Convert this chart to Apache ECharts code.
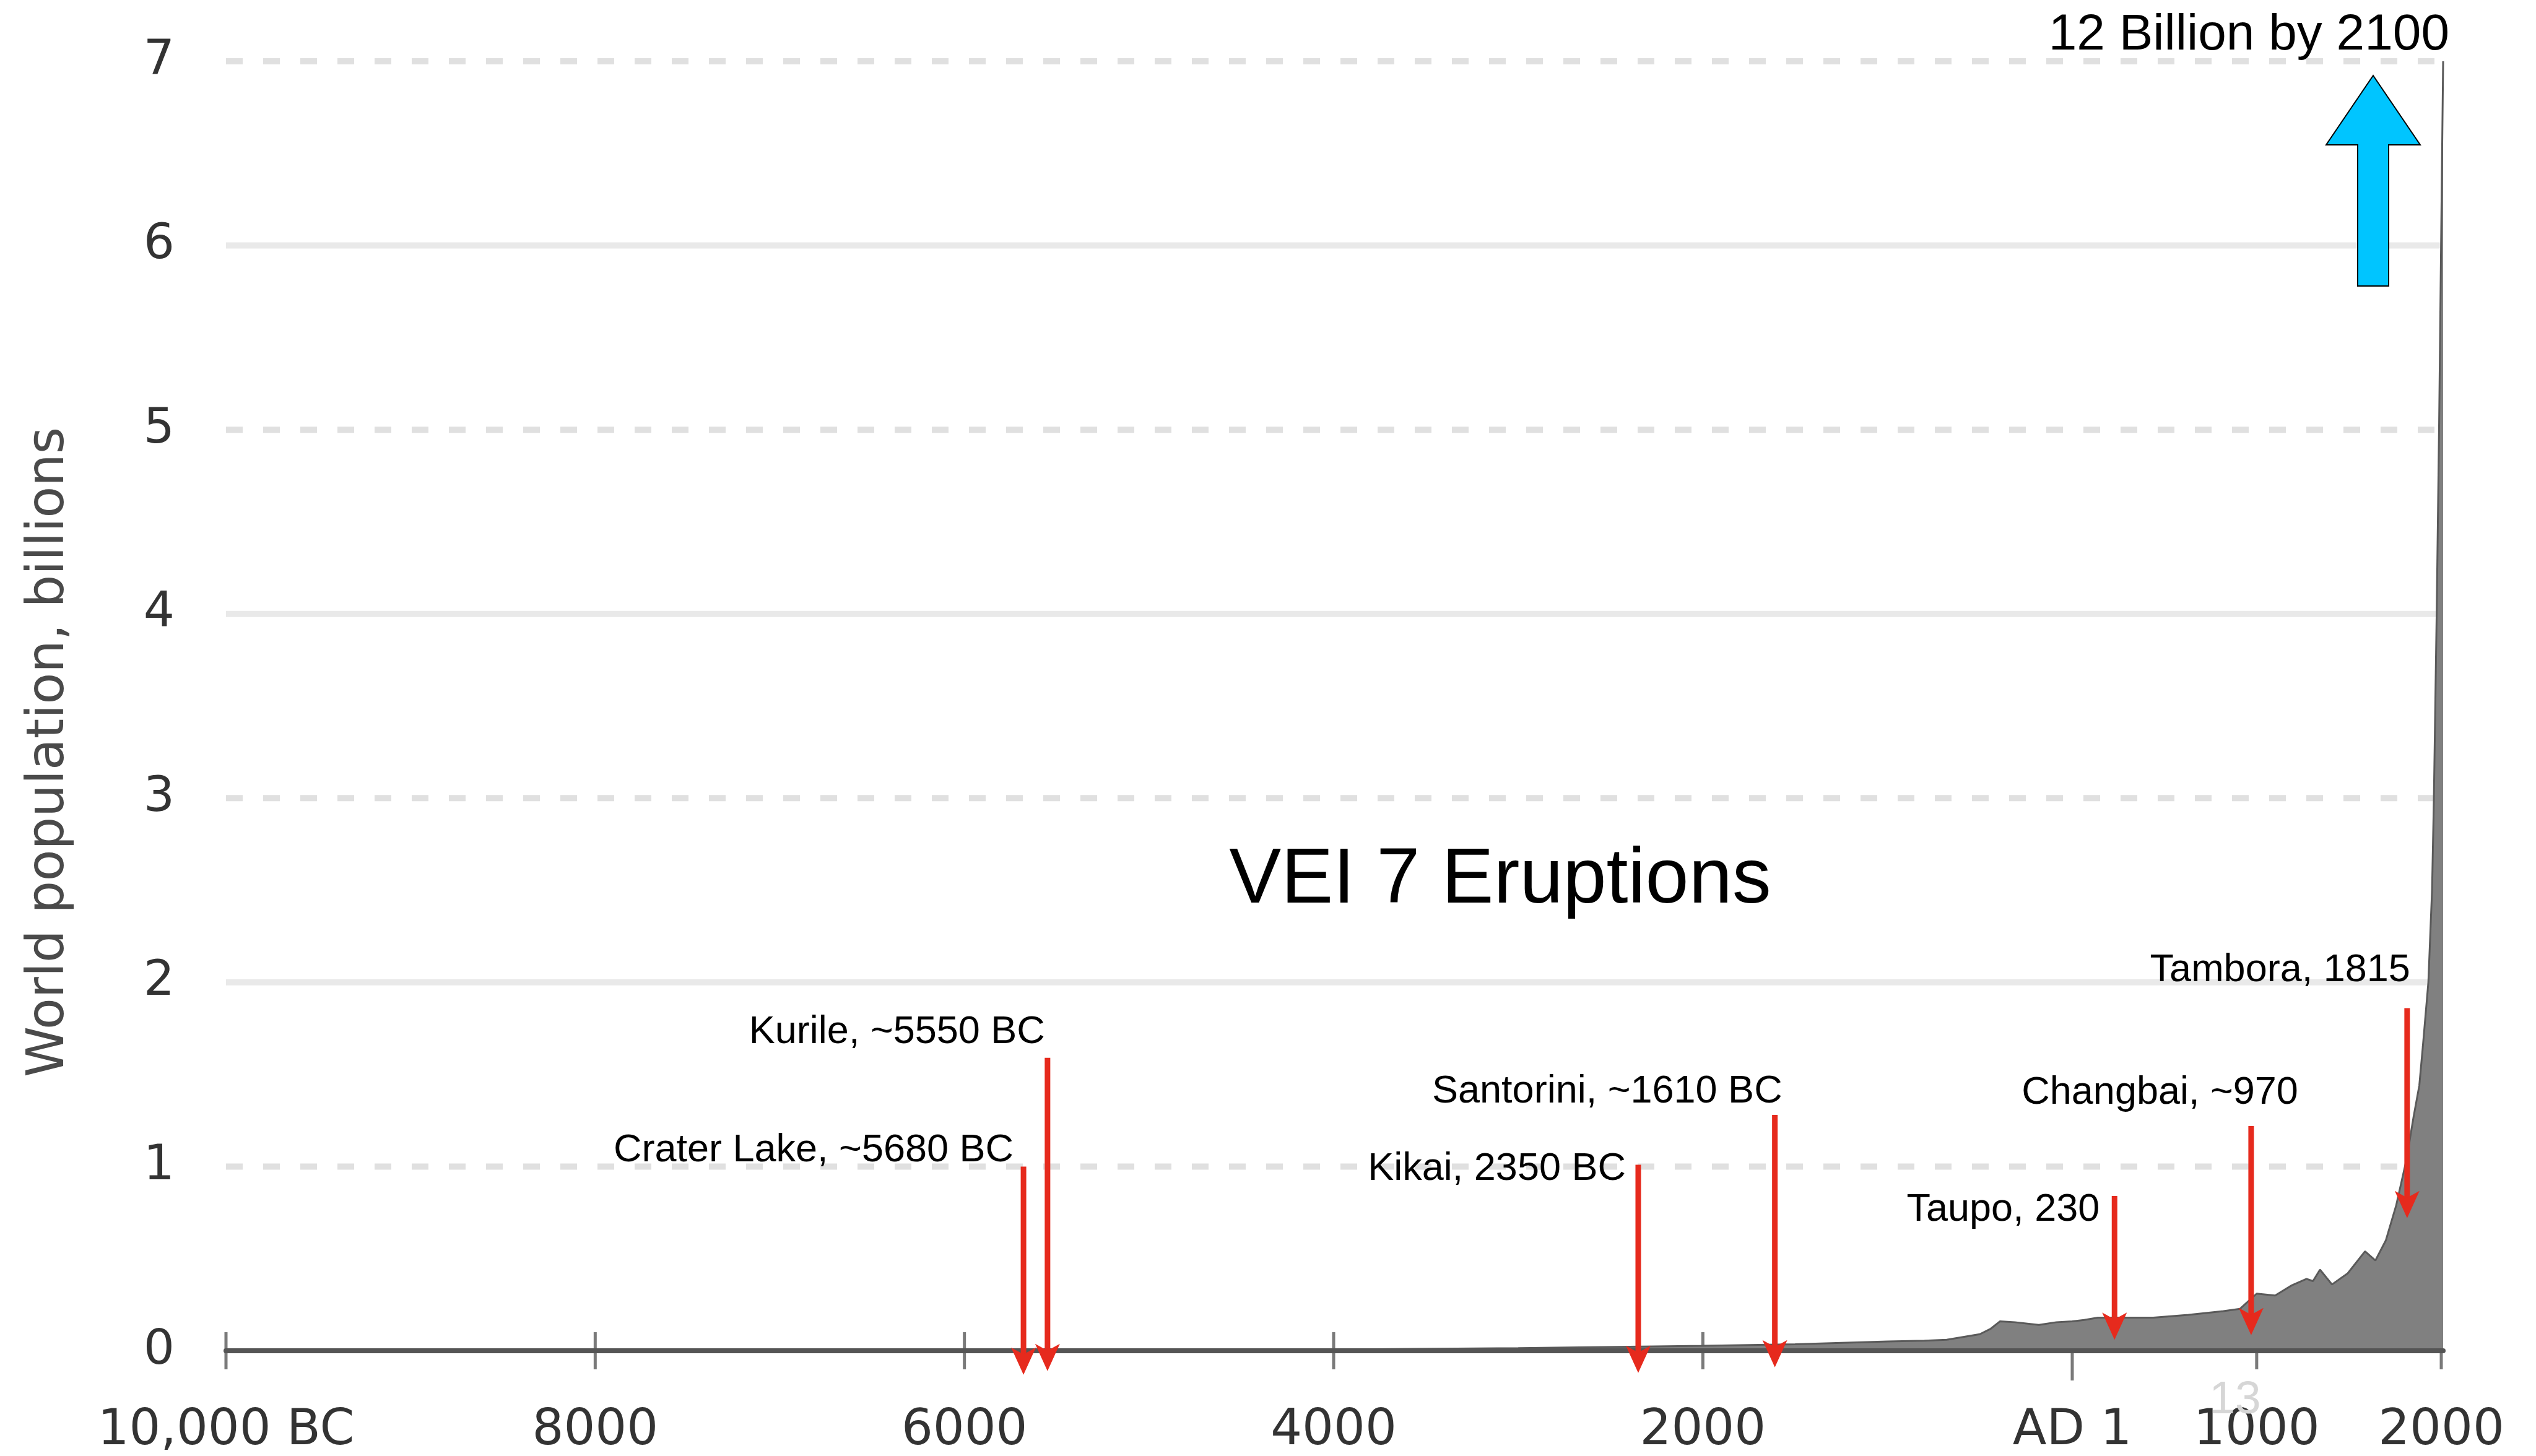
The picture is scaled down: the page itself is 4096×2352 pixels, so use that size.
<!DOCTYPE html>
<html>
<head>
<meta charset="utf-8">
<script src="https://cdn.jsdelivr.net/npm/echarts@6/dist/echarts.min.js"></script>
<style>
  html, body { margin: 0; padding: 0; background: #ffffff; }
  #chart { width: 4096px; height: 2352px; }
</style>
</head>
<body>
<div id="chart"></div>
<script>
// World population (billions) by year; negative years are BC.
const years = [-10000, -9000, -8000, -7000, -6000, -5000, -4000, -3000, -2000, -1500,
  -1000, -800, -680, -500, -440, -390, -310, -180, -85, 1,
  66, 140, 440, 630, 820, 910, 1000, 1100, 1190, 1270,
  1305, 1343, 1408, 1493, 1587, 1643, 1700, 1756, 1812, 1850,
  1881, 1900, 1930, 1950, 1960, 1975, 1988, 2000, 2010];
const population = [0.004, 0.004, 0.005, 0.005, 0.005, 0.005, 0.007, 0.014, 0.027, 0.035,
  0.05, 0.055, 0.06, 0.09, 0.12, 0.16, 0.155, 0.14, 0.155, 0.16,
  0.167, 0.18, 0.18, 0.195, 0.215, 0.228, 0.31, 0.30, 0.355, 0.39,
  0.378, 0.44, 0.36, 0.42, 0.54, 0.49, 0.60, 0.79, 1.04, 1.27,
  1.44, 1.65, 2.0, 2.5, 3.0, 4.0, 5.0, 6.1, 7.0];

// Time axis ticks and their labels
const tickYears = [-10000, -8000, -6000, -4000, -2000, 1, 1000, 2000];
const tickLabels = ['10,000 BC', '8000', '6000', '4000', '2000', 'AD 1', '1000', '2000'];

// Population axis gridlines (billions)
const gridValues = [1, 2, 3, 4, 5, 6, 7];

// VEI 7 eruptions
const eruptionNames = ['Crater Lake, ~5680 BC', 'Kurile, ~5550 BC', 'Kikai, 2350 BC',
  'Santorini, ~1610 BC', 'Taupo, 230', 'Changbai, ~970', 'Tambora, 1815'];
const eruptionYears = [-5680, -5550, -2350, -1610, 230, 970, 1815];

// Callout layout: arrow start/end heights and label placement (axis units / px offsets)
const calloutLayout = [
  { top: 1.00, tip: -0.13, labelY: 1.086, dx: -16 },
  { top: 1.59, tip: -0.11, labelY: 1.727, dx: -4 },
  { top: 1.01, tip: -0.12, labelY: 0.985, dx: -20 },
  { top: 1.28, tip: -0.09, labelY: 1.405, dx: 12 },
  { top: 0.84, tip: 0.06, labelY: 0.765, dx: -24 },
  { top: 1.22, tip: 0.085, labelY: 1.40, dx: 76 },
  { top: 1.86, tip: 0.72, labelY: 2.065, dx: 5 }
];

const RED = '#e62a1d';
const AXIS_FONT = 'DejaVu Sans';
const NOTE_FONT = 'Liberation Sans';

const chart = echarts.init(document.getElementById('chart'), null, { renderer: 'canvas' });

const option = {
  animation: false,
  backgroundColor: '#ffffff',
  grid: { left: 365, right: 150, top: 99, bottom: 169, containLabel: false },
  xAxis: {
    type: 'value',
    min: -10000,
    max: 2010,
    z: 3,
    axisLine: { show: true, onZero: true, lineStyle: { color: '#555555', width: 8 } },
    axisTick: { show: false },
    splitLine: { show: false },
    axisLabel: {
      customValues: tickYears,
      formatter: v => tickLabels[tickYears.indexOf(v)],
      fontFamily: AXIS_FONT,
      fontSize: 80,
      color: '#333333',
      margin: 90
    }
  },
  yAxis: {
    type: 'value',
    min: 0,
    max: 7,
    interval: 1,
    axisLine: { show: false },
    axisTick: { show: false },
    splitLine: { show: false },
    axisLabel: {
      fontFamily: AXIS_FONT,
      fontSize: 79,
      color: '#333333',
      margin: 83,
      padding: [0, 0, 24, 0]
    }
  },
  graphic: [
    {
      type: 'text', x: 80, y: 1215, rotation: Math.PI / 2, z: 10,
      style: { text: 'World population, billions', fontFamily: AXIS_FONT, fontSize: 83,
               fill: '#4a4a4a', align: 'center', verticalAlign: 'middle' }
    },
    {
      type: 'text', x: 2423, y: 1423, z: 10,
      style: { text: 'VEI 7 Eruptions', fontFamily: NOTE_FONT, fontSize: 126,
               fill: '#000000', align: 'center', verticalAlign: 'middle' }
    },
    {
      type: 'text', x: 3956, y: 57, z: 10,
      style: { text: '12 Billion by 2100', fontFamily: NOTE_FONT, fontSize: 82,
               fill: '#000000', align: 'right', verticalAlign: 'middle' }
    },
    {
      type: 'polygon', z: 10,
      shape: { points: [[3833, 122], [3909, 234], [3858, 234], [3858, 462],
                        [3808, 462], [3808, 234], [3757, 234]] },
      style: { fill: '#00c5ff', stroke: '#000000', lineWidth: 2 }
    },
    {
      type: 'text', x: 3610, y: 2262, z: 10,
      style: { text: '13', fontFamily: NOTE_FONT, fontSize: 75,
               fill: '#d6d6d6', align: 'center', verticalAlign: 'middle' }
    }
  ],
  series: [
    {
      // horizontal gridlines: odd values dashed, even values solid
      type: 'custom',
      z: 0,
      silent: true,
      data: gridValues.map(v => [0, v]),
      encode: { x: 0, y: 1 },
      renderItem: (params, api) => {
        const v = api.value(1);
        const y = api.coord([0, v])[1];
        const cs = params.coordSys;
        return {
          type: 'line',
          shape: { x1: cs.x, y1: y, x2: cs.x + cs.width, y2: y },
          style: { stroke: v % 2 ? '#e0e0e0' : '#e9e9e9', lineWidth: 10,
                   lineDash: v % 2 ? [27, 33] : null, lineCap: 'butt' }
        };
      }
    },
    {
      // tick marks across the time axis
      type: 'custom',
      z: 1,
      silent: true,
      data: tickYears.map(v => [v, 0]),
      encode: { x: 0, y: 1 },
      renderItem: (params, api) => {
        const yr = api.value(0);
        const p = api.coord([yr, 0]);
        const below = yr === 1 ? 48 : 30;
        return {
          type: 'line',
          shape: { x1: p[0], y1: p[1] - 30, x2: p[0], y2: p[1] + below },
          style: { stroke: '#7a7a7a', lineWidth: 5 }
        };
      }
    },
    {
      name: 'World population',
      type: 'line',
      z: 2,
      silent: true,
      symbol: 'none',
      data: years.map((y, i) => [y, population[i]]),
      lineStyle: { color: '#5a5a5a', width: 3 },
      areaStyle: { color: '#808080', opacity: 1 }
    },
    {
      // eruption arrows with their labels
      type: 'custom',
      z: 6,
      silent: true,
      data: eruptionYears.map((yr, i) => [yr, calloutLayout[i].top, calloutLayout[i].tip, i]),
      encode: { x: 0, y: 1 },
      renderItem: (params, api) => {
        const i = api.value(3);
        const L = calloutLayout[i];
        const top = api.coord([api.value(0), api.value(1)]);
        const tip = api.coord([api.value(0), api.value(2)]);
        const lab = api.coord([api.value(0), L.labelY]);
        const x = top[0];
        const ty = tip[1];
        return {
          type: 'group',
          children: [
            { type: 'line', shape: { x1: x, y1: top[1], x2: x, y2: ty - 30 },
              style: { stroke: RED, lineWidth: 9 } },
            { type: 'polygon',
              shape: { points: [[x, ty], [x - 20, ty - 44], [x, ty - 33], [x + 20, ty - 44]] },
              style: { fill: RED } },
            { type: 'text', x: x + L.dx, y: lab[1],
              style: { text: eruptionNames[i], fontFamily: NOTE_FONT, fontSize: 63,
                       fill: '#000000', align: 'right', verticalAlign: 'middle' } }
          ]
        };
      }
    }
  ]
};

chart.setOption(option);
</script>
</body>
</html>
